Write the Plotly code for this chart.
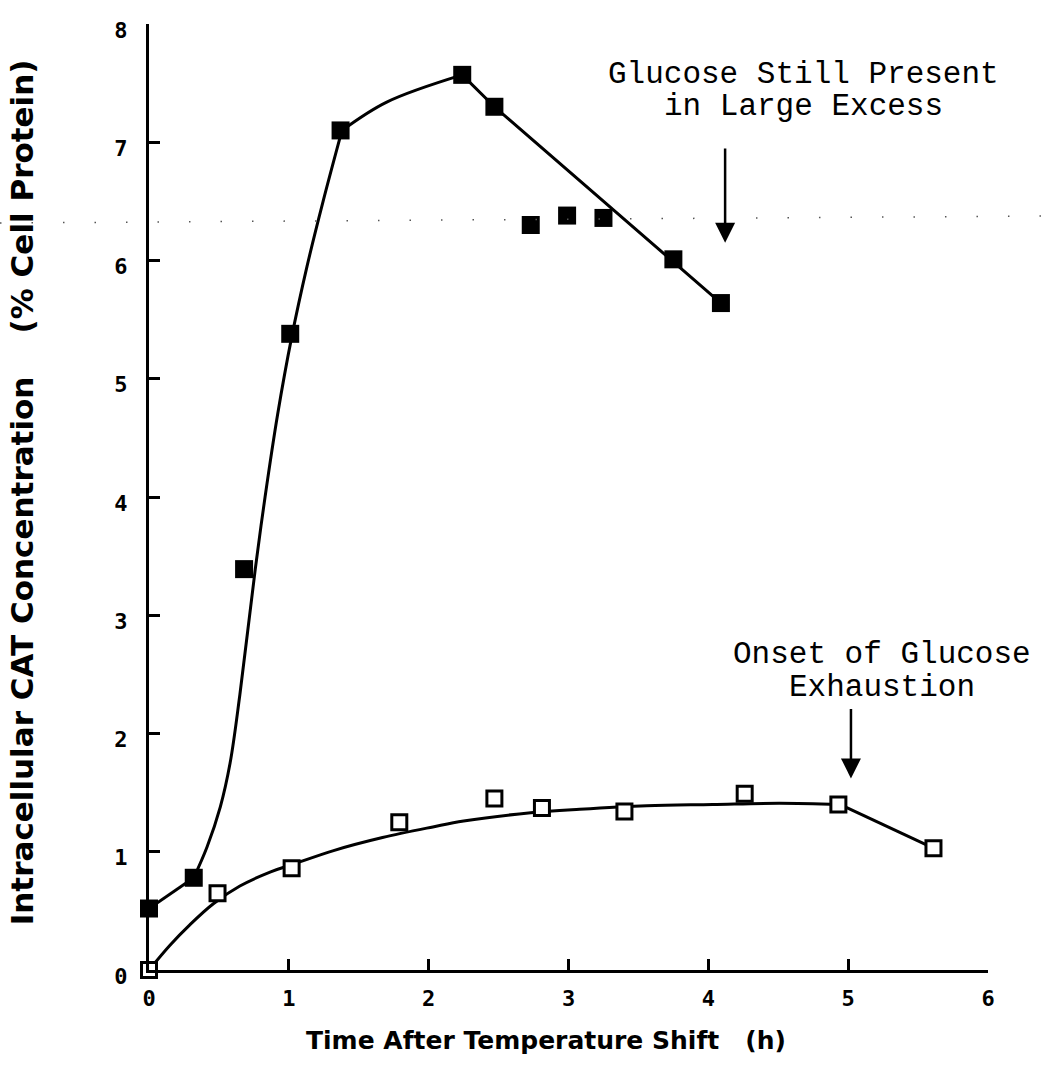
import plotly.graph_objects as go

# Measured CAT levels (filled squares: glucose in large excess)
time_filled = [0, 0.32, 0.68, 1.01, 1.37, 2.24, 2.47, 2.73, 2.99, 3.25, 3.75, 4.09]
cat_filled = [0.52, 0.78, 3.39, 5.38, 7.10, 7.57, 7.30, 6.30, 6.38, 6.36, 6.01, 5.64]

# Measured CAT levels (open squares: glucose exhaustion run)
time_open = [0, 0.49, 1.02, 1.79, 2.47, 2.81, 3.40, 4.26, 4.93, 5.61]
cat_open = [0.0, 0.65, 0.86, 1.25, 1.45, 1.37, 1.34, 1.49, 1.40, 1.03]

# Hand-drawn trend line through the filled series
fit1_start_t = [0, 0.32]
fit1_start_y = [0.52, 0.78]
fit1_rise_t = [0.32, 0.415, 0.51, 0.58, 0.65, 0.76, 0.83, 0.92, 1.02, 1.13, 1.245, 1.38]
fit1_rise_y = [0.78, 1.04, 1.38, 1.75, 2.33, 3.39, 4.00, 4.70, 5.35, 5.95, 6.50, 7.10]
fit1_cap_t = [1.38, 1.70, 2.24]
fit1_cap_y = [7.10, 7.34, 7.57]
fit1_fall_t = [2.24, 2.47, 4.09]
fit1_fall_y = [7.57, 7.30, 5.64]

# Hand-drawn trend line through the open series
fit2_t = [0, 0.15, 0.29, 0.46, 0.65, 0.87, 1.02, 1.32, 1.67, 2.03, 2.25, 2.73, 3.08, 3.56, 4.03, 4.51, 4.94]
fit2_y = [0, 0.21, 0.38, 0.56, 0.71, 0.83, 0.89, 1.01, 1.12, 1.21, 1.26, 1.33, 1.36, 1.39, 1.40, 1.41, 1.40]
fit2_end_t = [4.94, 5.61]
fit2_end_y = [1.40, 1.03]

x_ticks = [0, 1, 2, 3, 4, 5, 6]
x_ticktext = ["0", "1", "2", "3", "4", "5", "6"]
y_ticks = [0, 1, 2, 3, 4, 5, 6, 7, 8]
y_ticktext = ["0", "1", "2", "3", "4", "5", "6", "7", "8"]

INK = "#000000"
LW = 3

fig = go.Figure()

def trend(tx, ty, shape):
    line = dict(color=INK, width=LW, shape=shape)
    if shape == "spline":
        line["smoothing"] = 1.0
    fig.add_trace(go.Scatter(
        x=tx, y=ty, mode="lines", line=line,
        hoverinfo="skip", showlegend=False, cliponaxis=False,
    ))

trend(fit1_start_t, fit1_start_y, "linear")
trend(fit1_rise_t, fit1_rise_y, "spline")
trend(fit1_cap_t, fit1_cap_y, "spline")
trend(fit1_fall_t, fit1_fall_y, "linear")
trend(fit2_t, fit2_y, "spline")
trend(fit2_end_t, fit2_end_y, "linear")

fig.add_trace(go.Scatter(
    x=time_filled, y=cat_filled, mode="markers",
    marker=dict(symbol="square", size=18, color=INK, line=dict(width=0)),
    showlegend=False, cliponaxis=False,
))
fig.add_trace(go.Scatter(
    x=time_open, y=cat_open, mode="markers",
    marker=dict(symbol="square", size=15, color="white", line=dict(color=INK, width=3)),
    showlegend=False, cliponaxis=False,
))

axis_common = dict(
    showline=True, linecolor=INK, linewidth=3,
    ticks="inside", ticklen=11, tickwidth=3, tickcolor=INK,
    showgrid=False, zeroline=False,
    tickfont=dict(family="DejaVu Sans Mono", size=22, color=INK, weight="bold"),
    mirror=False,
)

fig.update_xaxes(range=[0, 6], tickvals=x_ticks, ticktext=x_ticktext,
                 ticklabelstandoff=7, **axis_common)
fig.update_yaxes(range=[0, 8], tickvals=y_ticks, ticktext=y_ticktext,
                 ticklabelstandoff=14, ticklabelshift=6, **axis_common)

x_title_font = dict(family="DejaVu Sans", size=25, color=INK, weight="bold")
y_title_font = dict(family="DejaVu Sans", size=31, color=INK, weight="bold")
note_font = dict(family="Liberation Mono", size=31, color=INK)

annotations = [
    dict(text="Time After Temperature Shift\u00a0\u00a0\u00a0(h)", x=0.4737, y=-0.074,
         xref="paper", yref="paper", showarrow=False, font=x_title_font,
         xanchor="center", yanchor="middle"),
    dict(text="Intracellular CAT Concentration\u00a0\u00a0\u00a0\u00a0(% Cell Protein)",
         x=-0.1514, y=0.505, xref="paper", yref="paper", showarrow=False,
         font=y_title_font, textangle=-90, xanchor="center", yanchor="middle"),
    dict(text="Glucose Still Present", x=0.7795, y=0.9461, xref="paper", yref="paper",
         showarrow=False, font=note_font, xanchor="center", yanchor="middle"),
    dict(text="in Large Excess", x=0.7795, y=0.9133, xref="paper", yref="paper",
         showarrow=False, font=note_font, xanchor="center", yanchor="middle"),
    dict(text="Onset of Glucose", x=0.8737, y=0.334, xref="paper", yref="paper",
         showarrow=False, font=note_font, xanchor="center", yanchor="middle"),
    dict(text="Exhaustion", x=0.8737, y=0.299, xref="paper", yref="paper",
         showarrow=False, font=note_font, xanchor="center", yanchor="middle"),
    # arrows pointing at the annotated time points
    dict(text="", x=4.12, y=6.15, ax=4.12, ay=6.96, xref="x", yref="y",
         axref="x", ayref="y", showarrow=True, arrowhead=2, arrowsize=1.6,
         arrowwidth=2.5, arrowcolor=INK),
    dict(text="", x=5.02, y=1.62, ax=5.02, ay=2.22, xref="x", yref="y",
         axref="x", ayref="y", showarrow=True, arrowhead=2, arrowsize=1.6,
         arrowwidth=2.5, arrowcolor=INK),
]

# faint dotted crease running across the sheet
shapes = [
    dict(type="line", xref="paper", yref="paper",
         x0=-0.1776, y0=0.7896, x1=1.0632, y1=0.797,
         line=dict(color="#555555", width=1.5, dash="1.5px,30px")),
]

fig.update_layout(
    width=1041, height=1065,
    margin=dict(l=149, r=53, t=24, b=95),
    paper_bgcolor="white", plot_bgcolor="white",
    annotations=annotations, shapes=shapes,
    showlegend=False,
)

fig.write_html("out.html")
